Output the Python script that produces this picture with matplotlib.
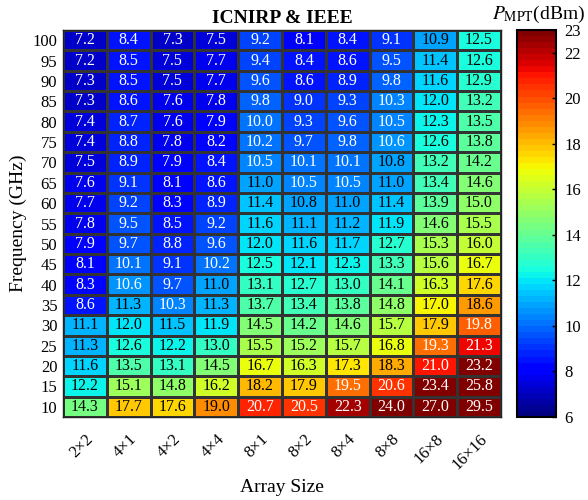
import numpy as np
import matplotlib
matplotlib.use("Agg")
import matplotlib.pyplot as plt

plt.rcParams['font.family'] = ['Liberation Serif', 'DejaVu Serif']
plt.rcParams['mathtext.fontset'] = 'stix'

# array sizes (columns) and frequencies (rows, top to bottom)
array_sizes = ['2×2', '4×1', '4×2', '4×4', '8×1', '8×2', '8×4', '8×8', '16×8', '16×16']
freqs = [100, 95, 90, 85, 80, 75, 70, 65, 60, 55, 50, 45, 40, 35, 30, 25, 20, 15, 10]

# P_MPT in dBm, one row per frequency
p_mpt = [
    [7.2, 8.4, 7.3, 7.5, 9.2, 8.1, 8.4, 9.1, 10.9, 12.5],
    [7.2, 8.5, 7.5, 7.7, 9.4, 8.4, 8.6, 9.5, 11.4, 12.6],
    [7.3, 8.5, 7.5, 7.7, 9.6, 8.6, 8.9, 9.8, 11.6, 12.9],
    [7.3, 8.6, 7.6, 7.8, 9.8, 9.0, 9.3, 10.3, 12.0, 13.2],
    [7.4, 8.7, 7.6, 7.9, 10.0, 9.3, 9.6, 10.5, 12.3, 13.5],
    [7.4, 8.8, 7.8, 8.2, 10.2, 9.7, 9.8, 10.6, 12.6, 13.8],
    [7.5, 8.9, 7.9, 8.4, 10.5, 10.1, 10.1, 10.8, 13.2, 14.2],
    [7.6, 9.1, 8.1, 8.6, 11.0, 10.5, 10.5, 11.0, 13.4, 14.6],
    [7.7, 9.2, 8.3, 8.9, 11.4, 10.8, 11.0, 11.4, 13.9, 15.0],
    [7.8, 9.5, 8.5, 9.2, 11.6, 11.1, 11.2, 11.9, 14.6, 15.5],
    [7.9, 9.7, 8.8, 9.6, 12.0, 11.6, 11.7, 12.7, 15.3, 16.0],
    [8.1, 10.1, 9.1, 10.2, 12.5, 12.1, 12.3, 13.3, 15.6, 16.7],
    [8.3, 10.6, 9.7, 11.0, 13.1, 12.7, 13.0, 14.1, 16.3, 17.6],
    [8.6, 11.3, 10.3, 11.3, 13.7, 13.4, 13.8, 14.8, 17.0, 18.6],
    [11.1, 12.0, 11.5, 11.9, 14.5, 14.2, 14.6, 15.7, 17.9, 19.8],
    [11.3, 12.6, 12.2, 13.0, 15.5, 15.2, 15.7, 16.8, 19.3, 21.3],
    [11.6, 13.5, 13.1, 14.5, 16.7, 16.3, 17.3, 18.3, 21.0, 23.2],
    [12.2, 15.1, 14.8, 16.2, 18.2, 17.9, 19.5, 20.6, 23.4, 25.8],
    [14.3, 17.7, 17.6, 19.0, 20.7, 20.5, 22.3, 24.0, 27.0, 29.5],
]

data = np.array(p_mpt)
vmin, vmax = 6, 23
cmap = plt.get_cmap('jet', 64)

fig = plt.figure(figsize=(5.88, 5.0), dpi=100)
ax = fig.add_axes([0.107, 0.166, 0.745, 0.774])
cax = fig.add_axes([0.879, 0.166, 0.066, 0.774])

nr, nc = data.shape
mesh = ax.pcolormesh(np.arange(nc + 1), np.arange(nr + 1), data[::-1], cmap=cmap,
                     vmin=vmin, vmax=vmax, edgecolors='#333333', linewidth=0.8)

# white text on dark cells, black on the light middle of the map
for i in range(nr):
    for j in range(nc):
        v = data[i, j]
        col = 'white' if (v < 10.7 or v > 19.1) else 'black'
        ax.text(j + 0.5, nr - i - 0.5, '%.1f' % v, ha='center', va='center',
                fontsize=11.5, color=col)

ax.set_xlim(0, nc)
ax.set_ylim(0, nr)
ax.set_xticks(np.arange(nc) + 0.5)
ax.set_xticklabels(array_sizes, rotation=45, ha='right', rotation_mode='anchor', fontsize=12)
ax.set_yticks(np.arange(nr) + 0.5)
ax.set_yticklabels([str(f) for f in freqs[::-1]], fontsize=12)
ax.tick_params(length=0, pad=4)
ax.tick_params(axis='x', pad=10)
for s in ax.spines.values():
    s.set_color('#222222')
    s.set_linewidth(1.0)

ax.set_xlabel('Array Size', fontsize=14, labelpad=5)
ax.set_ylabel('Frequency (GHz)', fontsize=14, labelpad=4)
ax.set_title('ICNIRP & IEEE', fontsize=14, fontweight='bold', pad=5)

cb = fig.colorbar(mesh, cax=cax)
cb.set_ticks([6, 8, 10, 12, 14, 16, 18, 20, 22, 23])
cb.ax.tick_params(direction='in', length=3, width=1, labelsize=12, pad=6)
cb.outline.set_linewidth(1.5)
fig.text(0.995, 0.972, r'$P_{\rm MPT}$(dBm)', ha='right', va='center', fontsize=14)

fig.savefig('out.png', dpi=100)
